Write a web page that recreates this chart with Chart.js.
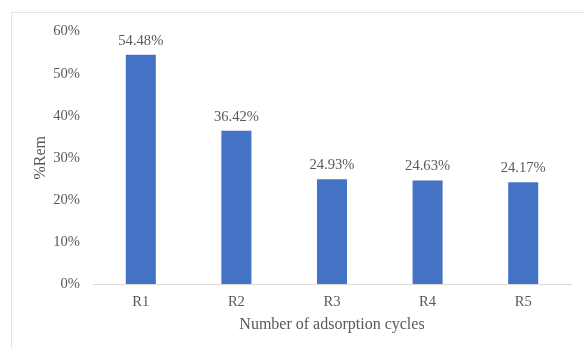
<!DOCTYPE html>
<html>
<head>
<meta charset="utf-8">
<script src="https://cdn.jsdelivr.net/npm/chart.js@4"></script>
<style>
  html, body { margin: 0; padding: 0; background: #ffffff; }
  #wrap { position: relative; width: 585px; height: 348px; overflow: hidden; }
  #frame { position: absolute; left: 11px; top: 12px; right: -2px; bottom: -2px;
           border-top: 1px solid #e3e3e3; border-left: 1px solid #e3e3e3; pointer-events: none; }
  canvas { position: absolute; left: 0; top: 0; }
</style>
</head>
<body>
<div id="wrap">
  <div id="frame"></div>
  <canvas id="chart" width="585" height="348"></canvas>
</div>
<script>
// Removal percentage after each adsorption cycle
const cycles = ['R1', 'R2', 'R3', 'R4', 'R5'];
const removal = [54.48, 36.42, 24.93, 24.63, 24.17];
const yTicks = [0, 10, 20, 30, 40, 50, 60];

const FONT = 'Liberation Serif, "Times New Roman", serif';
const TEXT = '#595959';

// Value labels above each bar
const barValueLabels = {
  id: 'barValueLabels',
  afterDatasetsDraw(chart) {
    const ctx = chart.ctx;
    const meta = chart.getDatasetMeta(0);
    ctx.save();
    ctx.font = '14.6px ' + FONT;
    ctx.fillStyle = TEXT;
    ctx.textAlign = 'center';
    ctx.textBaseline = 'middle';
    meta.data.forEach((bar, i) => {
      ctx.fillText(removal[i].toFixed(2) + '%', bar.x, bar.y - 14);
    });
    ctx.restore();
  }
};

new Chart(document.getElementById('chart'), {
  type: 'bar',
  data: {
    labels: cycles,
    datasets: [{
      data: removal,
      backgroundColor: '#4472C4',
      borderWidth: 0,
      categoryPercentage: 1,
      barPercentage: 0.314
    }]
  },
  options: {
    responsive: false,
    animation: false,
    devicePixelRatio: 1,
    layout: { padding: { top: 31.6, right: 14, left: 0, bottom: 0 } },
    plugins: { legend: { display: false }, tooltip: { enabled: false } },
    scales: {
      x: {
        grid: { display: false, drawTicks: false },
        border: { display: true, color: '#d9d9d9', width: 1 },
        ticks: { color: TEXT, font: { family: FONT, size: 14.6 }, padding: 9 },
        title: {
          display: true,
          text: 'Number of adsorption cycles',
          color: TEXT,
          font: { family: FONT, size: 16 },
          padding: { top: 0, bottom: 13.4 }
        },
        afterFit(scale) { scale.height = 64; }
      },
      y: {
        min: 0,
        max: 60,
        afterBuildTicks(scale) { scale.ticks = yTicks.map(v => ({ value: v })); },
        grid: { display: false, drawTicks: false },
        border: { display: false },
        ticks: {
          color: TEXT,
          font: { family: FONT, size: 14.6 },
          padding: 13,
          callback: v => v + '%'
        },
        title: {
          display: true,
          text: '%Rem',
          color: TEXT,
          font: { family: FONT, size: 16 },
          padding: { top: 31.4, bottom: 0 }
        },
        afterFit(scale) { scale.width = 93; }
      }
    }
  },
  plugins: [barValueLabels]
});
</script>
</body>
</html>
